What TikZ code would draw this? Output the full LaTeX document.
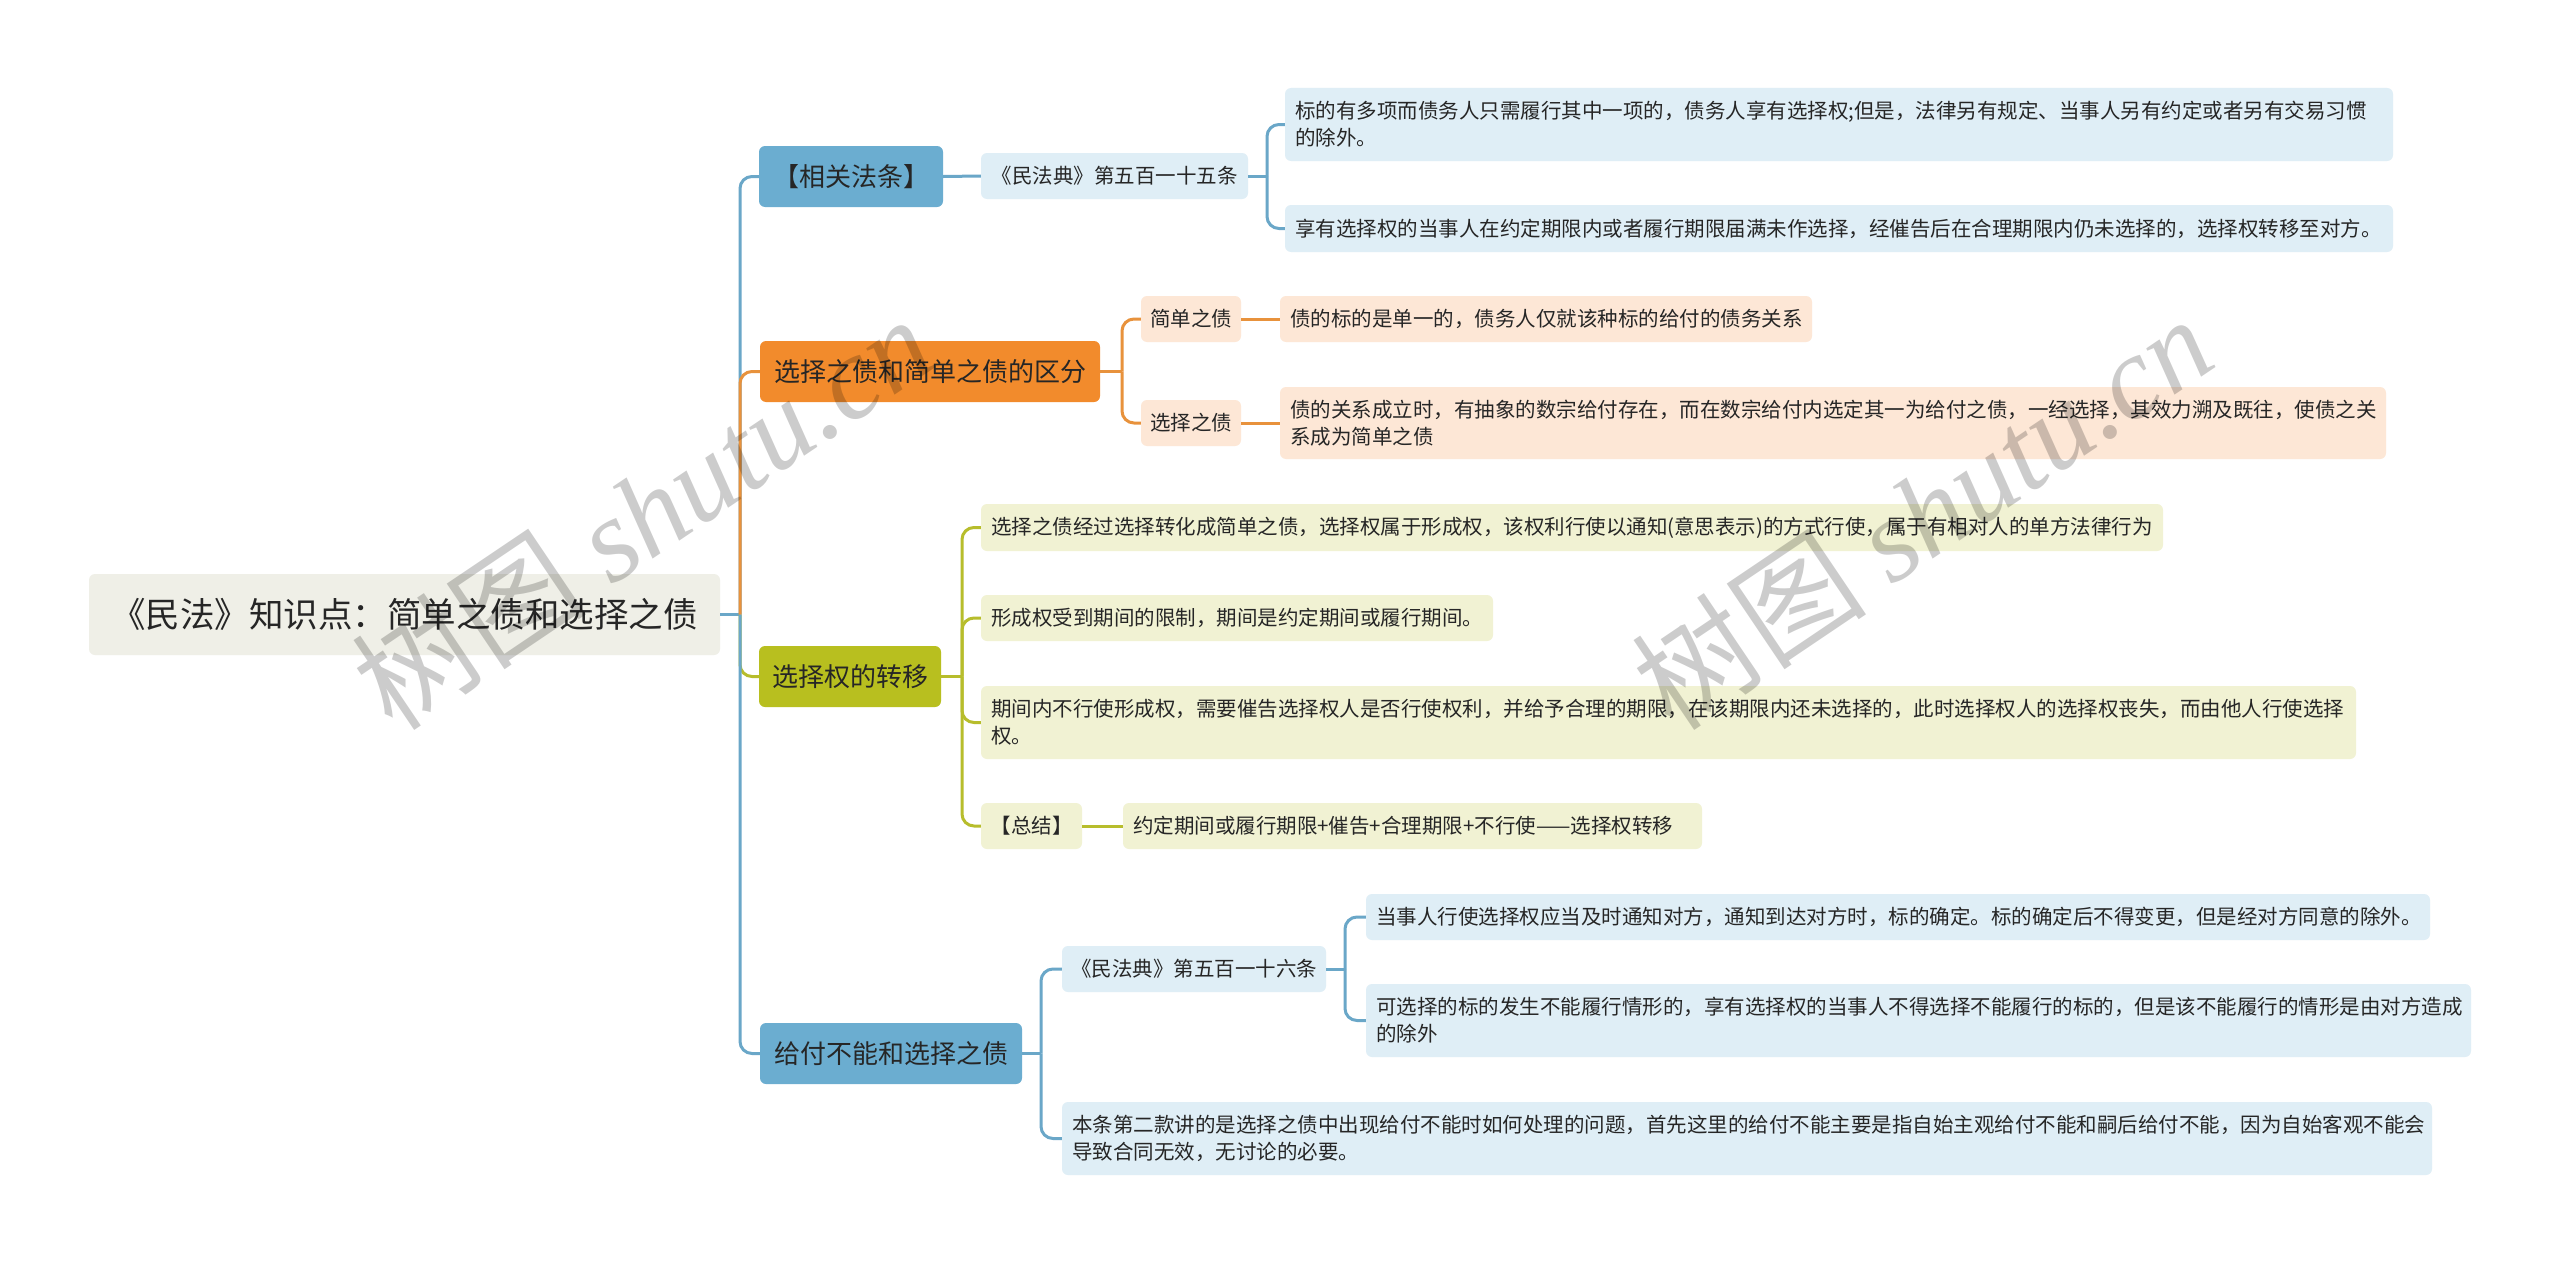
\documentclass[tikz,border=0pt]{standalone}
\usepackage{fontspec}
\setmainfont{Noto Sans CJK SC}
\newfontfamily\wmlatin{Liberation Serif}
\definecolor{bfill}{HTML}{6BADD0}
\definecolor{blf}{HTML}{DFEEF6}
\definecolor{bline}{HTML}{6AA7C8}
\definecolor{ofill}{HTML}{F28B2C}
\definecolor{olf}{HTML}{FDE7D6}
\definecolor{oline}{HTML}{E8923C}
\definecolor{gfill}{HTML}{B8BF1F}
\definecolor{glf}{HTML}{F1F2D3}
\definecolor{gline}{HTML}{B7BD2C}
\definecolor{rootf}{HTML}{EFEFE7}
\definecolor{txt}{HTML}{262626}
\tikzset{
  base/.style={rounded corners=6pt, inner sep=0pt, anchor=center, text=txt},
  rootbox/.style={base, fill=rootf, minimum width=631pt, minimum height=81pt, font=\fontsize{34.5}{40}\selectfont},
  lone/.style={base, minimum height=61pt, font=\fontsize{26}{30}\selectfont},
  lvb/.style={lone, fill=bfill},
  lvo/.style={lone, fill=ofill},
  lvg/.style={lone, fill=gfill},
  mid/.style={base, minimum height=46pt, font=\fontsize{20.5}{27}\selectfont},
  leaf/.style={base, font=\fontsize{20.5}{27}\selectfont, align=left, inner xsep=10pt, inner ysep=0pt},
  lb/.style={leaf, fill=blf},
  lo/.style={leaf, fill=olf},
  lg/.style={leaf, fill=glf},
  cb/.style={draw=bline, line width=3pt},
  co/.style={draw=oline, line width=3pt},
  cg/.style={draw=gline, line width=3pt},
  rc/.style={rounded corners=12pt},
  wm/.style={rotate=34, text=black, opacity=0.2, font=\fontsize{118}{124}\selectfont, inner sep=0pt}
}
\begin{document}
\begin{tikzpicture}[x=1pt, y=-1pt]
\useasboundingbox (0,0) rectangle (2560,1263);
\fill[white] (0,0) rectangle (2560,1263);

% nodes
\node[rootbox] (root) at (404.5,614.5) {《民法》知识点：简单之债和选择之债};

\node[lvb, minimum width=184pt] (A) at (851,176.5) {【相关法条】};
\node[mid, fill=blf, minimum width=267pt] (A1) at (1114.5,176) {《民法典》第五百一十五条};
\node[lb, text width=1088pt, minimum height=73pt] (A1a) at (1839,124.5) {标的有多项而债务人只需履行其中一项的，债务人享有选择权;但是，法律另有规定、当事人另有约定或者另有交易习惯\\的除外。};
\node[lb, text width=1088pt, minimum height=47pt] (A1b) at (1839,228.5) {享有选择权的当事人在约定期限内或者履行期限届满未作选择，经催告后在合理期限内仍未选择的，选择权转移至对方。};

\node[lvo, minimum width=340pt] (B) at (930,371.5) {选择之债和简单之债的区分};
\node[mid, fill=olf, minimum width=100pt] (B1) at (1191,319) {简单之债};
\node[lo, text width=512pt, minimum height=46pt] (B1a) at (1546,319) {债的标的是单一的，债务人仅就该种标的给付的债务关系};
\node[mid, fill=olf, minimum width=100pt] (B2) at (1191,423) {选择之债};
\node[lo, text width=1086pt, minimum height=72pt] (B2a) at (1833,423) {债的关系成立时，有抽象的数宗给付存在，而在数宗给付内选定其一为给付之债，一经选择，其效力溯及既往，使债之关\\系成为简单之债};

\node[lvg, minimum width=182pt] (C) at (850,676.5) {选择权的转移};
\node[lg, text width=1162pt, minimum height=47pt] (C1) at (1572,527.5) {选择之债经过选择转化成简单之债，选择权属于形成权，该权利行使以通知(意思表示)的方式行使，属于有相对人的单方法律行为};
\node[lg, text width=492pt, minimum height=46pt] (C2) at (1237,618) {形成权受到期间的限制，期间是约定期间或履行期间。};
\node[lg, text width=1355pt, minimum height=73pt] (C3) at (1668.5,722.5) {期间内不行使形成权，需要催告选择权人是否行使权利，并给予合理的期限，在该期限内还未选择的，此时选择权人的选择权丧失，而由他人行使选择\\权。};
\node[mid, fill=glf, minimum width=101pt] (C4) at (1031.5,826) {【总结】};
\node[lg, text width=559pt, minimum height=46pt] (C4a) at (1412.5,826) {约定期间或履行期限+催告+合理期限+不行使——选择权转移};

\node[lvb, minimum width=262pt] (D) at (891,1053.5) {给付不能和选择之债};
\node[mid, fill=blf, minimum width=264pt] (D1) at (1194,969) {《民法典》第五百一十六条};
\node[lb, text width=1044pt, minimum height=46pt] (D1a) at (1898,917) {当事人行使选择权应当及时通知对方，通知到达对方时，标的确定。标的确定后不得变更，但是经对方同意的除外。};
\node[lb, text width=1085pt, minimum height=73pt] (D1b) at (1918.5,1020.5) {可选择的标的发生不能履行情形的，享有选择权的当事人不得选择不能履行的标的，但是该不能履行的情形是由对方造成\\的除外};
\node[lb, text width=1350pt, minimum height=73pt] (D2) at (1747,1138.5) {本条第二款讲的是选择之债中出现给付不能时如何处理的问题，首先这里的给付不能主要是指自始主观给付不能和嗣后给付不能，因为自始客观不能会\\导致合同无效，无讨论的必要。};

% junction points
\coordinate (rt) at (740,614.5);
\coordinate (at) at (1267,176);
\coordinate (bt) at (1122,371.5);
\coordinate (ct) at (962,676.5);
\coordinate (dt) at (1041,1053.5);
\coordinate (d1t) at (1345,969);

% root connectors
\draw[cb] (root.east) -- (rt);
\draw[cb, rc] (rt) |- (A.west);
\draw[cg, rc] (rt) |- (C.west);
\draw[co, rc] (rt) |- (B.west);
\draw[cb, rc] (rt) |- (D.west);

% branch A
\draw[cb] (A.east) -- (A1.west);
\draw[cb] (A1.east) -- (at);
\draw[cb, rc] (at) |- (A1a.west);
\draw[cb, rc] (at) |- (A1b.west);

% branch B
\draw[co] (B.east) -- (bt);
\draw[co, rc] (bt) |- (B1.west);
\draw[co, rc] (bt) |- (B2.west);
\draw[co] (B1.east) -- (B1a.west);
\draw[co] (B2.east) -- (B2a.west);

% branch C
\draw[cg] (C.east) -- (ct);
\draw[cg, rc] (ct) |- (C1.west);
\draw[cg, rc] (ct) |- (C2.west);
\draw[cg, rc] (ct) |- (C3.west);
\draw[cg, rc] (ct) |- (C4.west);
\draw[cg] (C4.east) -- (C4a.west);

% branch D
\draw[cb] (D.east) -- (dt);
\draw[cb, rc] (dt) |- (D1.west);
\draw[cb, rc] (dt) |- (D2.west);
\draw[cb] (D1.east) -- (d1t);
\draw[cb, rc] (d1t) |- (D1a.west);
\draw[cb, rc] (d1t) |- (D1b.west);

% watermarks
\node[wm] (wm1) at (642,512) {树图 {\wmlatin\itshape shutu.cn}};
\node[wm] (wm2) at (1922,512) {树图 {\wmlatin\itshape shutu.cn}};
\end{tikzpicture}
\end{document}
